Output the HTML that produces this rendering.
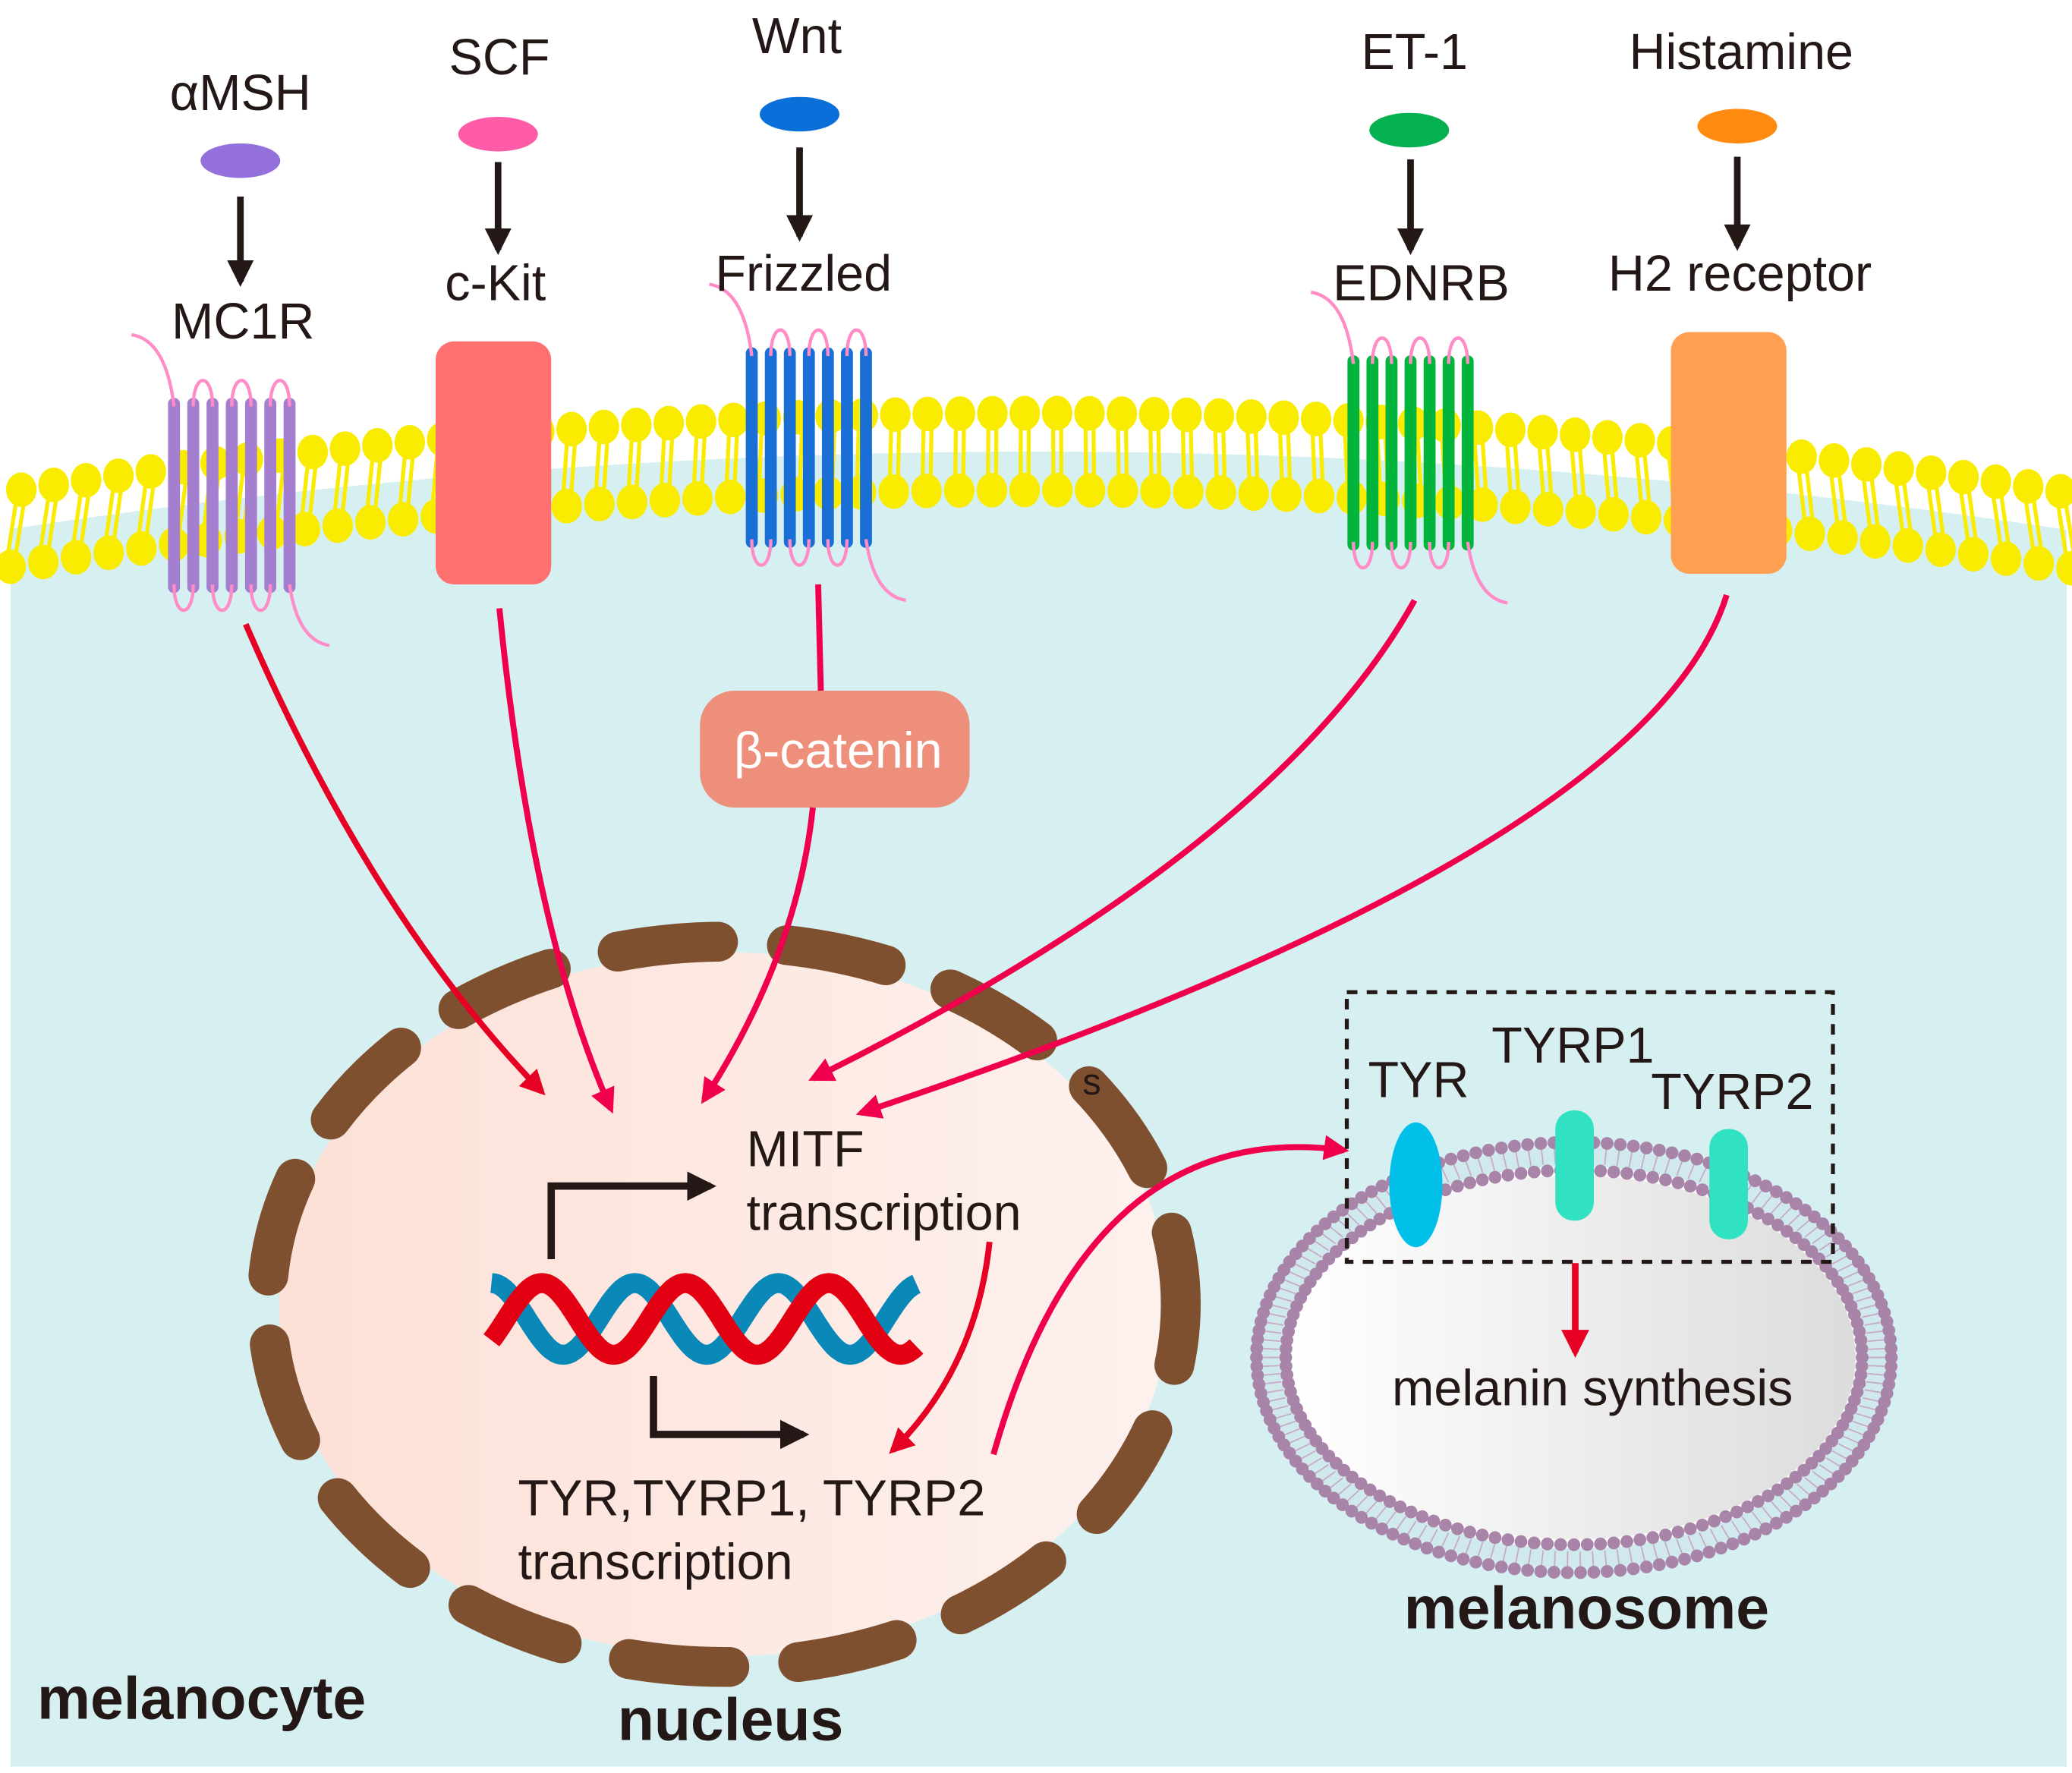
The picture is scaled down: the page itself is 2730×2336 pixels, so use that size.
<!DOCTYPE html>
<html><head><meta charset="utf-8"><style>
html,body{margin:0;padding:0;background:#fff}
svg{display:block}
text{font-family:"Liberation Sans",Arial,sans-serif;fill:#231815}
</style></head><body>
<svg id="s" xmlns="http://www.w3.org/2000/svg" width="2730" height="2336" viewBox="0 0 1560 1334.86">
<defs>
<linearGradient id="ng" x1="0" x2="1" y1="0" y2="0"><stop offset="0" stop-color="#fde0d6"/><stop offset="1" stop-color="#fdf1ee"/></linearGradient>
<linearGradient id="mg" x1="0" x2="1" y1="0" y2="0"><stop offset="0" stop-color="#ffffff"/><stop offset="1" stop-color="#dcdcdc"/></linearGradient>
<marker id="ar" viewBox="0 0 10 10" refX="8" refY="5" markerWidth="4.2" markerHeight="4.2" orient="auto"><path d="M0,0 L10,5 L0,10 z" fill="#f0004c"/></marker>
<marker id="ar2" viewBox="0 0 10 10" refX="8" refY="5" markerWidth="4.2" markerHeight="4.2" orient="auto"><path d="M0,0 L10,5 L0,10 z" fill="#e60024"/></marker>
<marker id="ab" viewBox="0 0 10 10" refX="8" refY="5" markerWidth="4" markerHeight="4" orient="auto"><path d="M0,0 L10,5 L0,10 z" fill="#231815"/></marker>
</defs>
<path id="cyto" fill="#d6eff1"/>
<g id="lip"></g>
<g id="rec"></g>
<g id="top"></g>
</svg>
<script>
var NS="http://www.w3.org/2000/svg";
function el(t,a,p){var e=document.createElementNS(NS,t);for(var k in a)e.setAttribute(k,a[k]);(p||document.getElementById('top')).appendChild(e);return e;}
function cy(x){var u=(x-780)/770;return 340+58*u*u;}
var d="M8,"+cy(8);for(var x=8;x<=1556;x+=4)d+=" L"+x+","+cy(x);d+=" L1556,1330 L8,1330 Z";
document.getElementById('cyto').setAttribute('d',d);
var L=document.getElementById('lip');
for(var x=12;x<=1556;x+=24.5){var c=cy(x);var sl=(cy(x+1)-cy(x-1))/2;var dx=-sl*27;
 el('line',{x1:x-3+dx,y1:c-26,x2:x-3,y2:c,stroke:'#f9ec00','stroke-width':3},L);
 el('line',{x1:x+3+dx,y1:c-26,x2:x+3,y2:c,stroke:'#f9ec00','stroke-width':3},L);
 el('line',{x1:x-3,y1:c,x2:x-3-dx,y2:c+26,stroke:'#f9ec00','stroke-width':3},L);
 el('line',{x1:x+3,y1:c,x2:x+3-dx,y2:c+26,stroke:'#f9ec00','stroke-width':3},L);
 el('ellipse',{cx:x+dx,cy:c-29,rx:11.5,ry:13,fill:'#f9ec00'},L);
 el('ellipse',{cx:x-dx,cy:c+29,rx:11.5,ry:13,fill:'#f9ec00'},L);
}
var R=document.getElementById('rec');
function tm(x0,x1,y0,y1,col){var n=7,s=(x1-x0)/6,pk='#ff8cc6';
 for(var i=0;i<n;i++){var xi=x0+i*s;el('line',{x1:xi,y1:y0,x2:xi,y2:y1,stroke:col,'stroke-width':9,'stroke-linecap':'round'},R);}
 for(var i=1;i<6;i+=2){var a=x0+i*s,b=a+s;el('path',{d:'M'+a+','+(y0+2)+' C'+a+','+(y0-24)+' '+b+','+(y0-24)+' '+b+','+(y0+2),fill:'none',stroke:pk,'stroke-width':2.5},R);}
 for(var i=0;i<6;i+=2){var a=x0+i*s,b=a+s;el('path',{d:'M'+a+','+(y1-2)+' C'+a+','+(y1+24)+' '+b+','+(y1+24)+' '+b+','+(y1-2),fill:'none',stroke:pk,'stroke-width':2.5},R);}
 el('path',{d:'M'+x0+','+(y0+2)+' Q'+(x0-6)+','+(y0-48)+' '+(x0-32)+','+(y0-52),fill:'none',stroke:pk,'stroke-width':2.5},R);
 el('path',{d:'M'+x1+','+(y1-2)+' Q'+(x1+6)+','+(y1+40)+' '+(x1+30)+','+(y1+44),fill:'none',stroke:pk,'stroke-width':2.5},R);
}
tm(131,218,304,442,'#a57fcf');
tm(566,652,266,408,'#1a6fd6');
tm(1019,1105,272,410,'#00b43c');
el('rect',{x:328,y:257,width:87,height:183,rx:14,fill:'#ff7170'},R);
el('rect',{x:1258,y:250,width:87,height:182,rx:14,fill:'#ff9f52'},R);
[[181,121,'#9370db'],[375,101,'#ff5ca8'],[602,86,'#0a6fd8'],[1061,98,'#05b050'],[1308,95,'#ff8a10']].forEach(function(a){el('ellipse',{cx:a[0],cy:a[1],rx:30,ry:13,fill:a[2]});});
[[181,148,212],[375,122,188],[602,111,178],[1062,120,188],[1308,118,185]].forEach(function(a){el('line',{x1:a[0],y1:a[1],x2:a[0],y2:a[2],stroke:'#231815','stroke-width':5,'marker-end':'url(#ab)'});});
function tx(s,x,y,sz,anc,w){var t=el('text',{x:x,y:y,'font-size':sz,'text-anchor':anc||'start','font-weight':w||'normal'});t.textContent=s;return t;}
tx('\u03b1MSH',181,83,38,'middle');tx('MC1R',183,255,38,'middle');
tx('SCF',376,56,38,'middle');tx('c-Kit',373,226,38,'middle');
tx('Wnt',600,40,38,'middle');tx('Frizzled',605,219,38,'middle');
tx('ET-1',1065,52,38,'middle');tx('EDNRB',1070,226,38,'middle');
tx('Histamine',1311,52,38,'middle');tx('H2 receptor',1310,219,38,'middle');
el('ellipse',{cx:545,cy:982,rx:335,ry:265,fill:'url(#ng)'});
el('ellipse',{cx:545,cy:982,rx:344,ry:273,fill:'none',stroke:'#7f5030','stroke-width':30,'stroke-dasharray':'76 52','stroke-linecap':'round','stroke-dashoffset':'30'});
el('rect',{x:527,y:520,width:203,height:88,rx:26,fill:'#ee8f7b'});
var bt=tx('\u03b2-catenin',631,578,38,'middle');bt.setAttribute('style','fill:#fff');
function ra(dd,m,w){el('path',{d:dd,fill:'none',stroke:m=='ar2'?'#e60024':'#f0004c','stroke-width':w||4.5,'marker-end':'url(#'+(m||'ar')+')'});}
ra('M185,470 Q280,690 408,822','ar2');
ra('M376,458 Q400,700 460,835');
el('line',{x1:616,y1:440,x2:618,y2:520,stroke:'#f0004c','stroke-width':4.5});
ra('M612,608 Q600,720 530,828');
ra('M1065,452 Q960,640 612,812');
ra('M1300,448 Q1240,640 648,838');
ra('M745,935 Q735,1030 672,1092','ar2');
ra('M748,1095 Q820,840 1012,866');
el('path',{d:'M415,948 V893 H535',fill:'none',stroke:'#231815','stroke-width':5.5,'marker-end':'url(#ab)'});
el('path',{d:'M492,1036 V1080 H605',fill:'none',stroke:'#231815','stroke-width':5.5,'marker-end':'url(#ab)'});
function strand(ph,col){var p='';for(var x=370;x<=690;x+=2){var y=993-27*Math.cos(2*Math.PI*(x-370-ph)/108);p+=(p?' L':'M')+x+','+y.toFixed(1);}el('path',{d:p,fill:'none',stroke:col,'stroke-width':15});}
strand(0,'#0a88b8');strand(38,'#e20012');
tx('MITF',562,878,38);tx('transcription',562,926,38);
tx('TYR,TYRP1, TYRP2',390,1141,38);tx('transcription',390,1189,38);
tx('s',815,824,28);
el('ellipse',{cx:1185,cy:1022,rx:233,ry:156,fill:'#ffffff'});
el('ellipse',{cx:1185,cy:1022,rx:228,ry:151,fill:'none',stroke:'#cfe9ec','stroke-width':14});
el('ellipse',{cx:1185,cy:1022,rx:212,ry:137,fill:'url(#mg)'});
function dots(rx,ry,n){for(var i=0;i<n;i++){var a=2*Math.PI*i/n;el('circle',{cx:1185+rx*Math.cos(a),cy:1022+ry*Math.sin(a),r:4.8,fill:'#a884a8'});}}
for(var i=0;i<150;i++){var a=2*Math.PI*i/150;el('line',{x1:1185+222*Math.cos(a),y1:1022+146*Math.sin(a),x2:1185+234*Math.cos(a),y2:1022+158*Math.sin(a),stroke:'#c8a8c8','stroke-width':1});}
dots(239,162,150);dots(217,141,136);
el('ellipse',{cx:1066,cy:892,rx:20,ry:47,fill:'#00c0ea'});
el('rect',{x:1171,y:836,width:29,height:83,rx:14,fill:'#30e2c2'});
el('rect',{x:1287,y:850,width:29,height:83,rx:14,fill:'#30e2c2'});
el('rect',{x:1014,y:747,width:366,height:203,fill:'none',stroke:'#231815','stroke-width':3,'stroke-dasharray':'8 7'});
el('line',{x1:1186,y1:951,x2:1186,y2:1018,stroke:'#e60024','stroke-width':5,'marker-end':'url(#ar2)'});
tx('TYR',1030,826,38);tx('TYRP1',1123,800,38);tx('TYRP2',1243,835,38);
tx('melanin synthesis',1048,1058,38);
tx('melanocyte',28,1294,45,'start','bold');
tx('nucleus',465,1310,45,'start','bold');
tx('melanosome',1057,1226,45,'start','bold');
</script>
</body></html>
